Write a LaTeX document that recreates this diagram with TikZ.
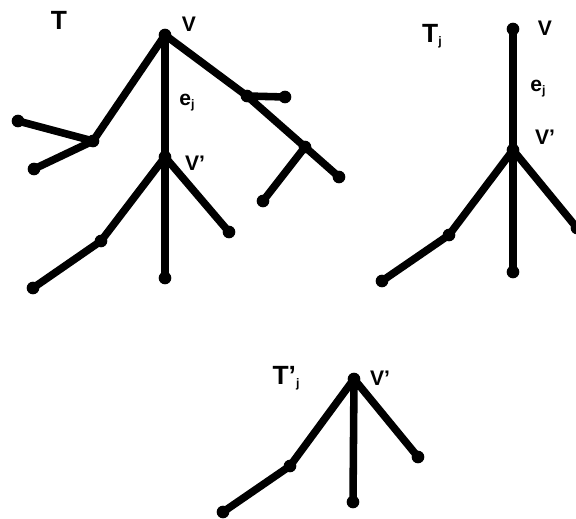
\documentclass[tikz,border=0pt]{standalone}
\usepackage{fontspec}
\setmainfont{Liberation Sans}
\newcommand{\sbj}{\raisebox{-0.25ex}{\fontsize{7}{8}\selectfont j}}
\begin{document}
\begin{tikzpicture}[x=0.02cm, y=-0.02cm, line join=round, line cap=round,
		edge/.style={line width=4.3pt},
		lbl/.style={font=\fontsize{12}{14}\selectfont\bfseries, inner sep=0pt},
		big/.style={font=\fontsize{15}{17}\selectfont\bfseries, inner sep=0pt}]
	\useasboundingbox (0,0) rectangle (576,519);
	% tree T
	\coordinate (v) at (165,35);
	\coordinate (vp) at (165,157);
	\coordinate (a) at (93,141);
	\coordinate (a1) at (18,121);
	\coordinate (a2) at (34,169);
	\coordinate (b) at (247,96);
	\coordinate (b1) at (285,97);
	\coordinate (c) at (305,147);
	\coordinate (c1) at (339,177);
	\coordinate (c2) at (263,201);
	\coordinate (d) at (101,241);
	\coordinate (d1) at (33,288);
	\coordinate (e) at (165,278);
	\coordinate (f) at (229,232);
	\draw[edge] (a1)--(a)--(v)--(b)--(c)--(c1) (a2)--(a) (b)--(b1) (c)--(c2)
		(v)--(vp)--(e) (vp)--(d)--(d1) (vp)--(f);
	\foreach \p in {v,vp,a,a1,a2,b,b1,c,c1,c2,d,d1,e,f}
		\fill (\p) circle (3.6pt);
	\node[big] (tT) at (59,20) {T};
	\node[lbl] (tv) at (189,24) {V};
	\node[lbl] (te) at (187,103) {e\sbj};
	\node[lbl] (tvp) at (195,163) {V’};
	% tree T_j
	\coordinate (jv) at (513,29);
	\coordinate (jvp) at (513,150);
	\coordinate (jd) at (449,235);
	\coordinate (jd1) at (382,281);
	\coordinate (je) at (513,272);
	\coordinate (jf) at (577,228);
	\draw[edge] (jv)--(jvp)--(je) (jvp)--(jd)--(jd1) (jvp)--(jf);
	\foreach \p in {jv,jvp,jd,jd1,je,jf}
		\fill (\p) circle (3.6pt);
	\node[big] (tTj) at (432,36) {T\sbj};
	\node[lbl] (tjv) at (545,28) {V};
	\node[lbl] (tje) at (538,89) {e\sbj};
	\node[lbl] (tjvp) at (545,137) {V’};
	% tree T'_j
	\coordinate (kvp) at (354,379);
	\coordinate (kd) at (290,466);
	\coordinate (kd1) at (223,512);
	\coordinate (ke) at (353,502);
	\coordinate (kf) at (418,457);
	\draw[edge] (kvp)--(ke) (kvp)--(kd)--(kd1) (kvp)--(kf);
	\foreach \p in {kvp,kd,kd1,ke,kf}
		\fill (\p) circle (3.6pt);
	\node[big] (tTk) at (286,378) {T’\sbj};
	\node[lbl] (tkvp) at (380,378) {V’};
\end{tikzpicture}
\end{document}
